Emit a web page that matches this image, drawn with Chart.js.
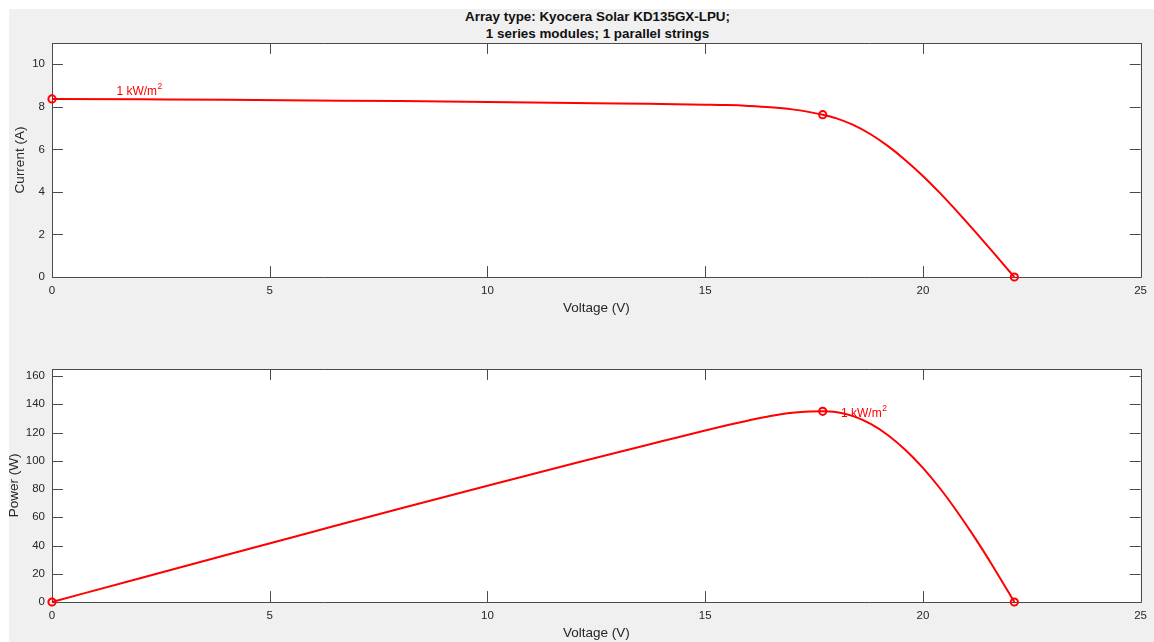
<!DOCTYPE html>
<html><head><meta charset="utf-8">
<script src="https://cdn.jsdelivr.net/npm/chart.js@4.4.0/dist/chart.umd.min.js"></script>
<style>
html,body{margin:0;padding:0;background:#fff;width:1154px;height:642px;overflow:hidden;position:relative;}
#fig{position:absolute;left:9px;top:9px;width:1145px;height:633px;background:#f0f0f0;}
#title{position:absolute;left:52px;width:1091px;top:8px;text-align:center;font:bold 13.4px "Liberation Sans",Arial,sans-serif;color:#111;line-height:17px;}
.cw{position:absolute;left:0;width:1154px;}
</style></head>
<body>
<div id="fig"></div>
<div id="title">Array type: Kyocera Solar KD135GX-LPU;<br>1 series modules; 1 parallel strings</div>
<div class="cw" style="top:0;height:320px;"><canvas id="c1" width="1154" height="320"></canvas></div>
<div class="cw" style="top:320px;height:322px;"><canvas id="c2" width="1154" height="322"></canvas></div>
<script>
// ---- data ----
const voltage = [0,2,4,6,8,10,12,13,14,15,15.5,16,16.5,17,17.4,17.7,18.0,18.4,18.8,19.2,19.6,20.0,20.4,20.8,21.2,21.6,22.1];
const current = [8.37,8.35,8.33,8.30,8.27,8.23,8.18,8.16,8.13,8.10,8.08,8.04,7.98,7.88,7.75,7.63,7.47,7.15,6.71,6.15,5.49,4.75,3.93,3.05,2.13,1.19,0];
const power   = [0,16.7,33.3,49.8,66.2,82.3,98.2,106.1,113.8,121.5,125.2,128.6,131.7,134.0,134.9,135.0,134.5,131.6,126.1,118.1,107.6,95.0,80.2,63.4,45.2,25.7,0];
const markerV = [0,17.7,22.1];
const markerI = [8.37,7.63,0];
const markerP = [0,135.0,0];
const xTicks = [0,5,10,15,20,25];
const currentTicks = [0,2,4,6,8,10];
const powerTicks = [0,20,40,60,80,100,120,140,160];
const labelText = "1 kW/m";
const labelSup = "2";
const annTop = {v:1.48, y:8.69};
const annBot = {v:18.12, y:133.7};

const RED = '#ff0000';
const AX = '#4a4a4a';
const FONT = '"Liberation Sans", Arial, sans-serif';

function pts(xs, ys){ return xs.map((x,i)=>({x:x, y:ys[i]})); }

const axesPlugin = {
  id:'matlabAxes',
  beforeDraw(chart){
    const {ctx, chartArea:a} = chart;
    ctx.save(); ctx.fillStyle='#fff';
    ctx.fillRect(a.left, a.top, a.right-a.left, a.bottom-a.top);
    ctx.restore();
  },
  beforeDatasetsDraw(chart){
    const {ctx, chartArea:a, scales} = chart;
    const L = 10.9;
    ctx.save();
    ctx.strokeStyle = AX; ctx.lineWidth = 1;
    ctx.beginPath();
    scales.x.ticks.forEach(t=>{
      const px = Math.round(scales.x.getPixelForValue(t.value))+0.5;
      ctx.moveTo(px, a.bottom); ctx.lineTo(px, a.bottom-L);
      ctx.moveTo(px, a.top); ctx.lineTo(px, a.top+L);
    });
    scales.y.ticks.forEach(t=>{
      const py = Math.round(scales.y.getPixelForValue(t.value))+0.5;
      ctx.moveTo(a.left, py); ctx.lineTo(a.left+L, py);
      ctx.moveTo(a.right, py); ctx.lineTo(a.right-L, py);
    });
    ctx.stroke();
    ctx.beginPath();
    ctx.rect(Math.round(a.left)+0.5, Math.round(a.top)+0.5, Math.round(a.right-a.left), Math.round(a.bottom-a.top));
    ctx.stroke();
    ctx.restore();
  },
  afterDraw(chart){
    const ann = chart.options.plugins.matlabAxes.ann;
    const {ctx, scales} = chart;
    const x = scales.x.getPixelForValue(ann.v);
    const y = scales.y.getPixelForValue(ann.y);
    ctx.save();
    ctx.fillStyle = RED;
    ctx.textBaseline = 'middle'; ctx.textAlign='left';
    ctx.font = '12px '+FONT;
    ctx.fillText(labelText, x, y);
    const w = ctx.measureText(labelText).width;
    ctx.font = '8.5px '+FONT;
    ctx.fillText(labelSup, x+w+0.5, y-5);
    ctx.restore();
  }
};

function makeChart(id, yVals, mVals, yMax, yTickVals, yTitle, geo, ann){
  return new Chart(document.getElementById(id), {
    type:'line',
    data:{datasets:[
      {data:pts(voltage,yVals), borderColor:RED, borderWidth:2, pointRadius:0, fill:false, cubicInterpolationMode:'monotone', clip:false},
      {data:pts(markerV,mVals), showLine:false, pointStyle:'circle', pointRadius:3.6, pointBorderWidth:2, pointBorderColor:RED, pointBackgroundColor:'rgba(0,0,0,0)', clip:false}
    ]},
    options:{
      responsive:false, animation:false, events:[],
      layout:{padding:{top:geo.top, right:11, left:0, bottom:0}},
      plugins:{legend:{display:false}, tooltip:{enabled:false}, title:{display:false}, matlabAxes:{ann:ann}},
      scales:{
        x:{type:'linear', min:0, max:25,
          afterBuildTicks:s=>{ s.ticks = xTicks.map(v=>({value:v})); },
          afterFit:s=>{ s.height = geo.xh; },
          grid:{display:false, drawTicks:false}, border:{display:false},
          ticks:{padding:7, color:'#262626', font:{family:FONT, size:11.5}},
          title:{display:true, text:'Voltage (V)', color:'#262626', font:{family:FONT, size:13.5}, padding:{top:0,bottom:geo.xtp}}
        },
        y:{type:'linear', min:0, max:yMax,
          afterBuildTicks:s=>{ s.ticks = yTickVals.map(v=>({value:v})); },
          afterFit:s=>{ s.width = 52; },
          grid:{display:false, drawTicks:false}, border:{display:false},
          ticks:{padding:7, color:'#262626', font:{family:FONT, size:11.5}},
          title:{display:true, text:yTitle, color:'#262626', font:{family:FONT, size:13.5}, padding:{top:geo.ytp,bottom:0}}
        }
      }
    },
    plugins:[axesPlugin]
  });
}

makeChart('c1', current, markerI, 11, currentTicks, 'Current (A)', {top:43, xh:43, xtp:4, ytp:12}, annTop);
makeChart('c2', power, markerP, 165, powerTicks, 'Power (W)', {top:49, xh:40, xtp:1, ytp:6}, annBot);
</script>
</body></html>
